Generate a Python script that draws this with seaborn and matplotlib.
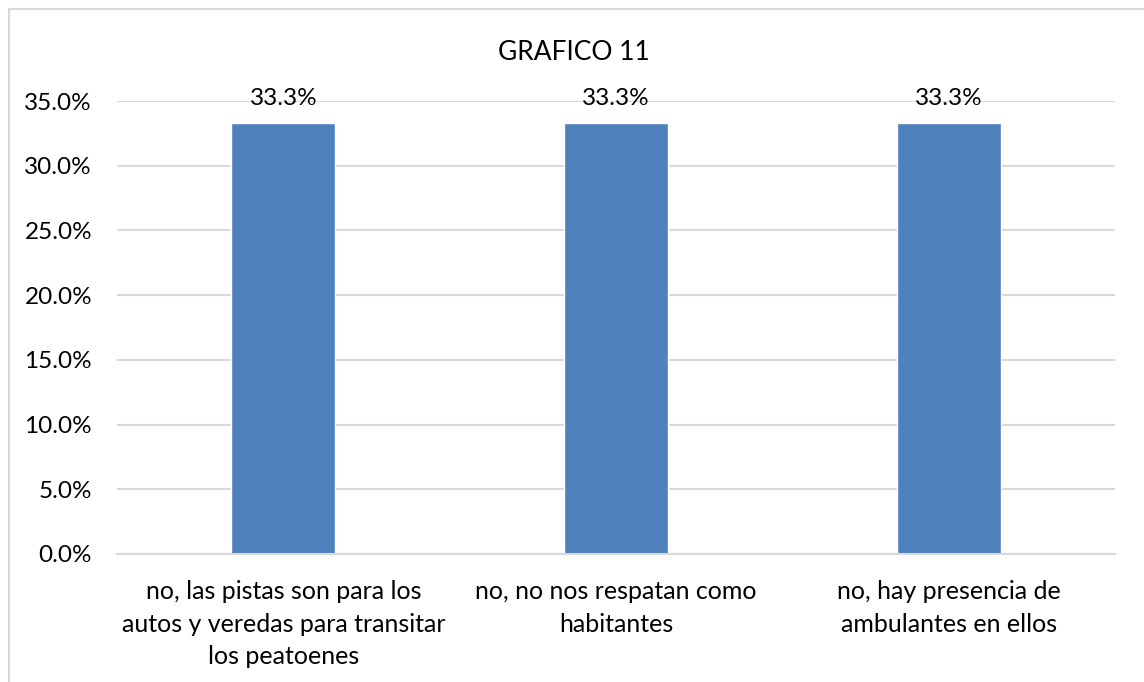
import matplotlib
matplotlib.use('Agg')
import matplotlib.pyplot as plt
import matplotlib.patches as mpatches
from matplotlib.ticker import PercentFormatter
import pandas as pd
import seaborn as sns

# data
categories = ['no, las pistas son para los\nautos y veredas para transitar\nlos peatoenes',
              'no, no nos respatan como\nhabitantes',
              'no, hay presencia de\nambulantes en ellos']
values = [0.333, 0.333, 0.333]
value_labels = ['33.3%', '33.3%', '33.3%']
yticks = [0.0, 0.05, 0.10, 0.15, 0.20, 0.25, 0.30, 0.35]

df = pd.DataFrame({'categoria': categories, 'valor': values})

sns.set_style('white')
plt.rcParams['font.family'] = ['Lato', 'DejaVu Sans']

fig = plt.figure(figsize=(11.44, 6.82), dpi=100)
ax = fig.add_axes([117 / 1144, 1 - 554 / 682, 998 / 1144, 453 / 682])

sns.barplot(data=df, x='categoria', y='valor', color='#4F81BD', saturation=1,
            width=0.313, ax=ax)

ax.set_ylim(0, 0.35)
ax.set_yticks(yticks)
ax.yaxis.set_major_formatter(PercentFormatter(xmax=1, decimals=1))
ax.grid(axis='y', color='#D9D9D9', linewidth=1.5)
ax.set_axisbelow(True)
for s in ['top', 'right', 'left']:
    ax.spines[s].set_visible(False)
ax.spines['bottom'].set_color('#D9D9D9')
ax.spines['bottom'].set_linewidth(1.5)
ax.tick_params(axis='both', length=0, labelsize=17.5, colors='#000000')
ax.tick_params(axis='y', pad=18)
ax.tick_params(axis='x', pad=19)
ax.set_xlabel('')
ax.set_ylabel('')
for lab in ax.get_xticklabels():
    lab.set_linespacing(1.5)
    lab.set_fontsize(18)

for i, (v, txt) in enumerate(zip(values, value_labels)):
    ax.annotate(txt, (i, v), xytext=(0, 10), textcoords='offset points',
                ha='center', va='bottom', fontsize=17.5, color='#000000')

fig.text(574 / 1144, 1 - 53 / 682, 'GRAFICO 11', ha='center', va='center',
         fontsize=19, color='#000000')

# outer chart border (clipped at right and bottom like the original)
border = mpatches.Rectangle((9 / 1144, -0.1), 1.2, 1 - 9 / 682 + 0.1,
                            transform=fig.transFigure, fill=False,
                            edgecolor='#D9D9D9', linewidth=1.5)
fig.patches.append(border)

fig.savefig('out.png', dpi=100)
